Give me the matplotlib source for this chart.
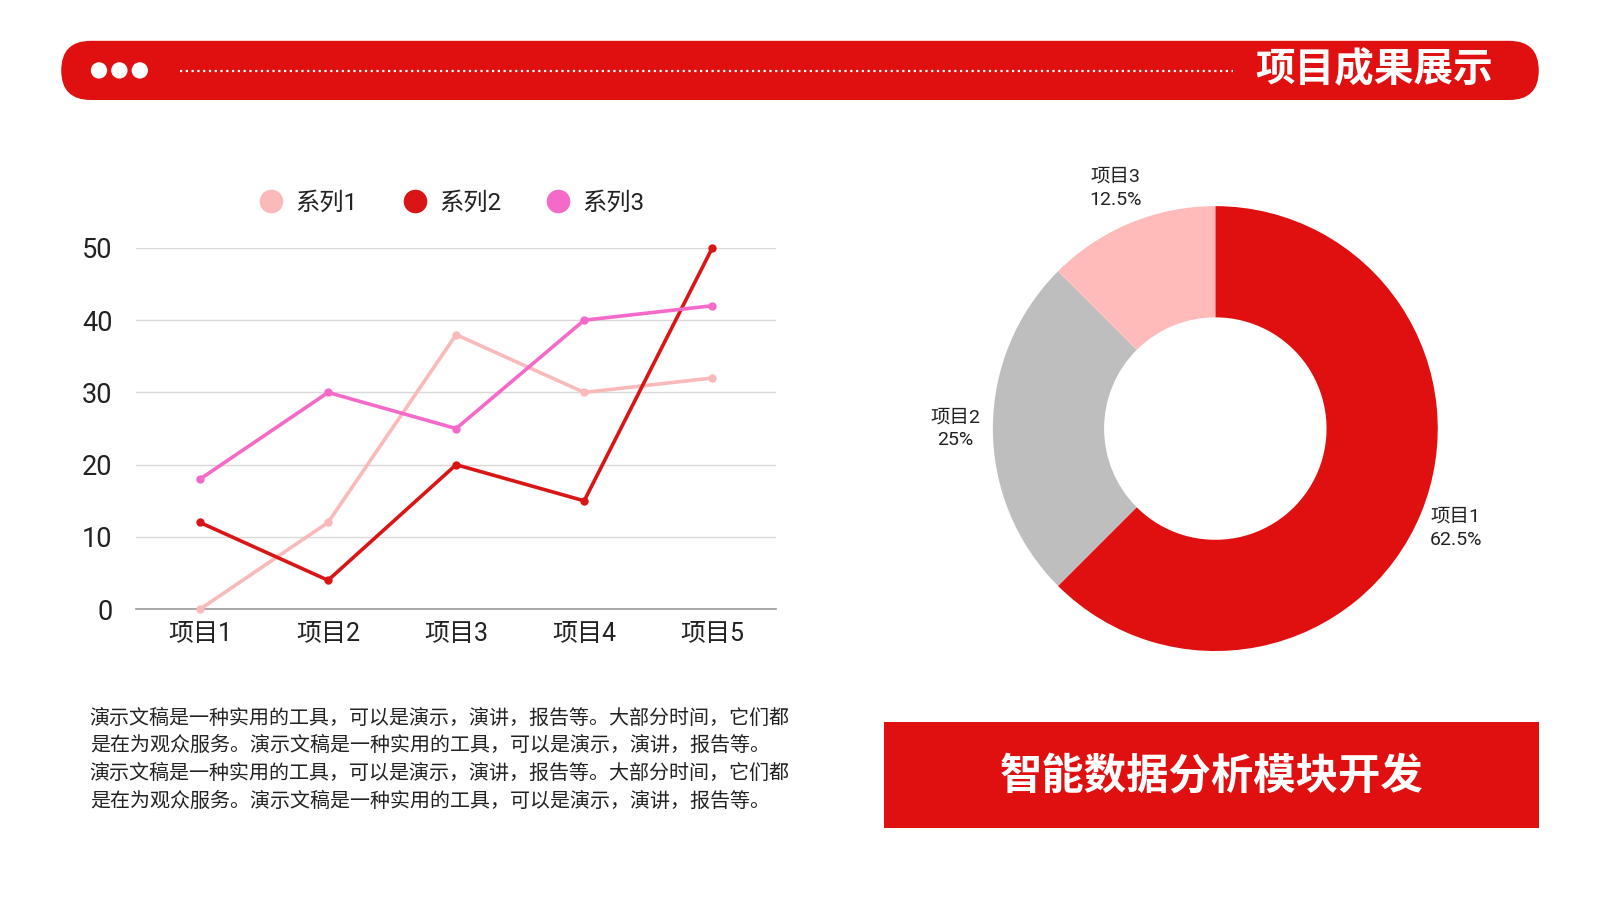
import matplotlib
matplotlib.use('Agg')
import matplotlib.pyplot as plt
from matplotlib.patches import FancyBboxPatch, Circle, Rectangle
from matplotlib.lines import Line2D

plt.rcParams['font.family'] = ['Noto Sans CJK SC', 'DejaVu Sans']
NUM_FONT = ['Roboto', 'Noto Sans CJK SC']

# Dữ liệu
categories = ['项目1', '项目2', '项目3', '项目4', '项目5']
series_names = ['系列1', '系列2', '系列3']
series1 = [0, 12, 38, 30, 32]
series2 = [12, 4, 20, 15, 50]
series3 = [18, 30, 25, 40, 42]
y_ticks = [0, 10, 20, 30, 40, 50]

pie_labels = ['项目1', '项目2', '项目3']
pie_values = [62.5, 25, 12.5]

title = '项目成果展示'
box_title = '智能数据分析模块开发'
paragraph = ['演示文稿是一种实用的工具，可以是演示，演讲，报告等。大部分时间，它们都',
             '是在为观众服务。演示文稿是一种实用的工具，可以是演示，演讲，报告等。',
             '演示文稿是一种实用的工具，可以是演示，演讲，报告等。大部分时间，它们都',
             '是在为观众服务。演示文稿是一种实用的工具，可以是演示，演讲，报告等。']

RED = '#E01010'
line_colors = ['#FBBABA', '#D91515', '#F569C8']
pie_colors = ['#E01010', '#BEBEBE', '#FFBABA']

# hệ toạ độ thiết kế (pixel của bản phác)
W, H = 1568, 882
fig = plt.figure(figsize=(16, 9), dpi=100)
fig.patch.set_facecolor('white')

bg = fig.add_axes([0, 0, 1, 1])
bg.set_xlim(0, W)
bg.set_ylim(H, 0)
bg.axis('off')

# thanh tiêu đề
bar = FancyBboxPatch((60, 40), 1448, 58, boxstyle='round,pad=0,rounding_size=29',
                     facecolor=RED, edgecolor='none')
bg.add_patch(bar)
for cx in [97, 117, 137]:
    bg.add_patch(Circle((cx, 69), 8, facecolor='white', edgecolor='none'))
bg.plot([176, 1208], [70, 70], color='white', lw=1.6, linestyle=(0, (1, 1.6)))
bg.text(1347, 68, title, color='white', fontsize=28.5, fontweight='bold',
        ha='center', va='center')

# hộp đỏ phía dưới
bg.add_patch(Rectangle((866, 708), 642, 103, facecolor=RED, edgecolor='none'))
bg.text(1187, 761, box_title, color='white', fontsize=30.5, fontweight='bold',
        ha='center', va='center')

# đoạn văn
for i, line in enumerate(paragraph):
    bg.text(88, 704 + i * 27, line, color='#222222', fontsize=14.4,
            ha='left', va='center')

# biểu đồ đường
x_left, x_right = 133.25, 760.75
y_bot, y_top = 597, 243
ax = fig.add_axes([x_left / W, (H - y_bot) / H, (x_right - x_left) / W, (y_bot - y_top) / H])
ax.set_xlim(-0.5, 4.5)
ax.set_ylim(0, 50)
xs = list(range(len(categories)))
for data, color in zip([series1, series2, series3], line_colors):
    ax.plot(xs, data, color=color, lw=2.6, marker='o', markersize=5, clip_on=False, zorder=3)
ax.set_xticks(xs)
ax.set_xticklabels(categories, fontfamily=NUM_FONT)
ax.set_yticks(y_ticks)
ax.set_yticklabels([str(v) for v in y_ticks], fontfamily=NUM_FONT)
ax.tick_params(axis='y', length=0, pad=17, labelsize=19.5, labelcolor='#222222')
ax.tick_params(axis='x', length=0, pad=9, labelsize=18, labelcolor='#222222')
for s in ['top', 'left', 'right']:
    ax.spines[s].set_visible(False)
ax.spines['bottom'].set_color('#9a9a9a')
ax.spines['bottom'].set_linewidth(1.2)
ax.grid(axis='y', color='#d9d9d9', lw=1.0)
ax.set_axisbelow(True)
ax.patch.set_alpha(0)

handles = [Line2D([], [], linestyle='none', marker='o', markersize=17,
                  markerfacecolor=c, markeredgecolor='none') for c in line_colors]
fig.legend(handles, series_names, loc='center', bbox_to_anchor=(437 / W, 1 - 199 / H),
           ncol=3, frameon=False, handletextpad=0.0, columnspacing=1.35,
           labelcolor='#222222', prop=dict(family=NUM_FONT, size=17.5))

# biểu đồ vành khuyên
cx, cy, r = 1191, 420, 218
half = 300
pax = fig.add_axes([(cx - half) / W, (H - cy - half) / H, 2 * half / W, 2 * half / H])
lim = half / r
labels = [f'{n}\n{v:g}%' for n, v in zip(pie_labels, pie_values)]
wedges, texts = pax.pie(pie_values, colors=pie_colors, startangle=90, counterclock=False,
                        radius=1, labels=labels, labeldistance=1.17,
                        wedgeprops=dict(width=0.5, edgecolor='none'),
                        textprops=dict(fontsize=14, color='#222222', linespacing=1.35,
                                       family=NUM_FONT))
for t in texts:
    t.set_ha('center')
    t.set_va('center')
pax.set_xlim(-lim, lim)
pax.set_ylim(-lim, lim)
pax.set_aspect('equal')
pax.axis('off')

fig.savefig('out.png', dpi=100)
